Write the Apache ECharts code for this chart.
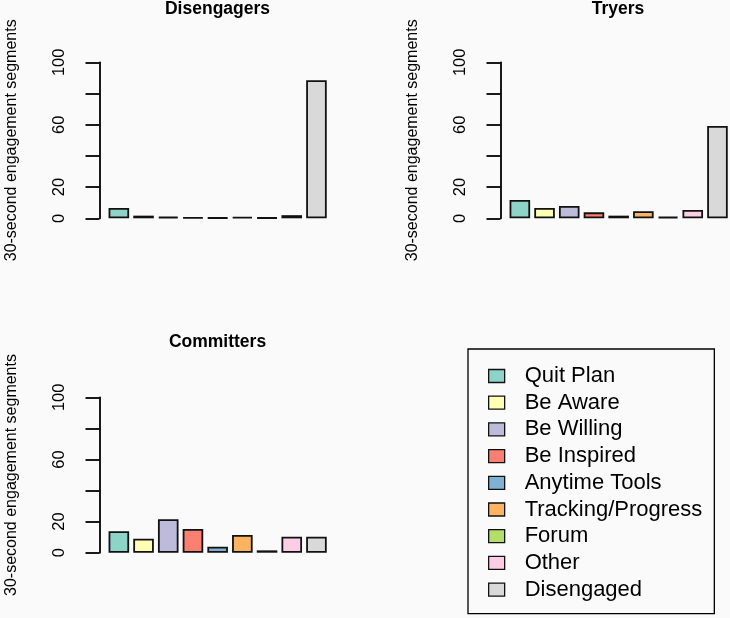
<!DOCTYPE html>
<html>
<head>
<meta charset="utf-8">
<script src="https://cdn.jsdelivr.net/npm/echarts@6/dist/echarts.min.js"></script>
<style>
html,body{margin:0;padding:0;background:#fafafa;}
#chart{width:730px;height:618px;}
</style>
</head>
<body>
<div id="chart"></div>
<script>
const categories = ['Quit Plan','Be Aware','Be Willing','Be Inspired','Anytime Tools','Tracking/Progress','Forum','Other','Disengaged'];
const disengagers = [6.6, 1.7, 1.0, 0.5, 0.4, 0.8, 0.4, 2.0, 88.5];
const tryers = [11.7, 6.6, 7.9, 3.8, 1.7, 4.5, 1.0, 5.3, 59.2];
const committers = [13.8, 9.0, 21.5, 15.3, 3.9, 11.4, 1.5, 10.3, 10.3];
const panelTitles = ['Disengagers','Tryers','Committers'];
const yTickLabels = [0, 20, 60, 100];
const yAxisTitle = '30-second engagement segments';
const palette = ['#8DD3C7','#FFFFB3','#BEBADA','#FB8072','#80B1D3','#FDB462','#B3DE69','#FCCDE5','#D9D9D9'];

const panels = [disengagers, tryers, committers];
const FONT = '"Liberation Sans", Arial, Helvetica, sans-serif';

const gridPos = [
  {left: 106.5, top: 62.3, width: 222.3, height: 156},
  {left: 507.5, top: 62.3, width: 222.3, height: 156},
  {left: 106.5, top: 397.3, width: 222.3, height: 155.4}
];
const titlePos = [
  {x: 217.5, y: 0.5},
  {x: 618, y: 0.5},
  {x: 217.5, y: 333.5}
];

const chart = echarts.init(document.getElementById('chart'), null, {renderer: 'canvas'});

const series = [];
panels.forEach((vals, p) => {
  categories.forEach((cat, c) => {
    series.push({
      type: 'bar',
      name: cat,
      xAxisIndex: p,
      yAxisIndex: p,
      stack: 'panel' + p,
      barCategoryGap: '16.7%',
      silent: true,
      data: categories.map((_, i) => i === c ? vals[i] : '-'),
      itemStyle: {color: palette[c], borderColor: '#111', borderWidth: 1.8}
    });
  });
});

const option = {
  backgroundColor: '#fafafa',
  animation: false,
  textStyle: {fontFamily: FONT, color: '#000'},
  title: panelTitles.map((t, p) => ({
    text: t,
    left: titlePos[p].x,
    top: titlePos[p].y,
    textAlign: 'center',
    padding: 0,
    textStyle: {fontFamily: FONT, fontSize: 17.5, fontWeight: 'bold', color: '#000'}
  })),
  grid: gridPos.map(g => Object.assign({containLabel: false}, g)),
  xAxis: panels.map((_, p) => ({
    type: 'category',
    gridIndex: p,
    data: categories,
    show: false
  })),
  yAxis: panels.map((_, p) => ({
    type: 'value',
    gridIndex: p,
    min: 0,
    max: 100,
    interval: 20,
    offset: 7,
    name: yAxisTitle,
    nameLocation: 'middle',
    nameRotate: 90,
    nameGap: 80,
    nameTextStyle: {fontFamily: FONT, fontSize: 16, color: '#000'},
    axisLine: {show: true, lineStyle: {color: '#000', width: 1.8}},
    axisTick: {show: true, length: 14, lineStyle: {color: '#000', width: 1.8}},
    splitLine: {show: false},
    axisLabel: {
      rotate: 90,
      margin: 32,
      fontFamily: FONT,
      fontSize: 16.5,
      color: '#000',
      formatter: v => yTickLabels.indexOf(v) >= 0 ? String(v) : ''
    }
  })),
  legend: {
    orient: 'vertical',
    left: 468,
    top: 349,
    data: categories,
    icon: 'rect',
    itemWidth: 16,
    itemHeight: 13,
    itemGap: 4.7,
    selectedMode: false,
    borderColor: '#000',
    borderWidth: 1.3,
    padding: [16, 12, 13, 20],
    itemStyle: {borderColor: '#111', borderWidth: 1.3},
    textStyle: {fontFamily: FONT, fontSize: 22, color: '#000', padding: [0, 0, 0, 15]}
  },
  series: series
};
chart.setOption(option);
</script>
</body>
</html>
